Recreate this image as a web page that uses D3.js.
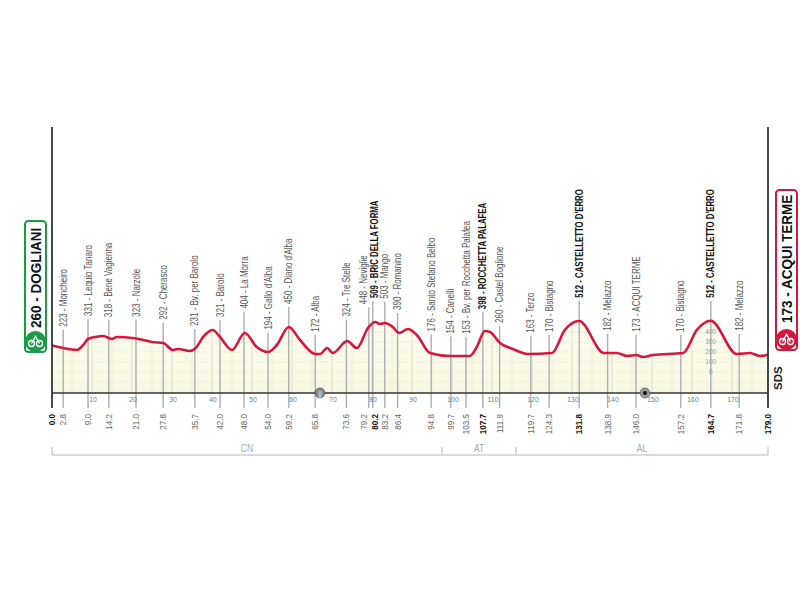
<!DOCTYPE html>
<html>
<head>
<meta charset="utf-8">
<script src="https://cdn.jsdelivr.net/npm/d3@7"></script>
<style>
  html, body { margin: 0; background: #fff; }
  svg { display: block; font-family: "Liberation Sans", sans-serif; }
</style>
</head>
<body>
<div id="chart"></div>
<script>
// profile
const profileKm = [0, 2.8, 6.2, 7.8, 9, 10.8, 12.8, 15, 16.2, 20.2, 22.8, 25, 27.8, 30.2, 31.5, 34.5, 35.7, 38.2, 40.2, 42, 45, 48.2, 51.2, 54, 56.2, 59.2, 62, 65.8, 67, 68.8, 70.2, 73.8, 76.2, 79, 80.8, 82, 83.2, 85.2, 86.8, 89, 91.2, 94.5, 99.5, 104.5, 106.2, 108.2, 109.5, 112, 115.2, 119, 125, 128.2, 131.8, 138, 141.2, 143.8, 146, 147.8, 150.2, 157.8, 161.2, 164.7, 171.2, 174.5, 177, 179];
const profileElev = [265, 240, 220, 270, 330, 350, 360, 330, 350, 340, 320, 300, 290, 220, 230, 210, 231, 370, 420, 350, 220, 390, 250, 200, 270, 450, 320, 180, 180, 240, 190, 310, 240, 440, 500, 480, 490, 450, 390, 430, 370, 190, 160, 160, 250, 410, 400, 290, 230, 180, 190, 420, 510, 190, 190, 160, 170, 150, 170, 190, 420, 512, 180, 190, 160, 173];

const cpKm = [2.8, 9.0, 14.2, 21.0, 27.8, 35.7, 42.0, 48.0, 54.0, 59.2, 65.8, 73.6, 79.2, 80.2, 83.2, 86.4, 94.8, 99.7, 103.5, 107.7, 111.9, 119.7, 124.3, 131.8, 138.9, 146.0, 157.2, 164.7, 171.8];
const cpElev = [223, 331, 318, 323, 292, 231, 321, 404, 194, 450, 172, 324, 448, 509, 503, 390, 176, 154, 153, 398, 260, 163, 170, 512, 182, 173, 170, 512, 182];
const cpName = ['Moncheiro', 'Lequio Tanaro', 'Bene Vagienna', 'Narzole', 'Cherasco', 'Bv. per Barolo', 'Barolo', 'La Morra', "Gallo d'Alba", "Diano d'Alba", 'Alba', 'Tre Stelle', 'Neviglie', 'BRIC DELLA FORMA', 'Mango', 'Romanino', 'Santo Stefano Belbo', 'Canelli', 'Bv. per Rocchetta Palafea', 'ROCCHETTA PALAFEA', 'Castel Boglione', 'Terzo', 'Bistagno', "CASTELLETTO D'ERRO", 'Melazzo', 'ACQUI TERME', 'Bistagno', "CASTELLETTO D'ERRO", 'Melazzo'];
const cpBold = ['BRIC DELLA FORMA', 'ROCCHETTA PALAFEA', "CASTELLETTO D'ERRO"];

const kmTicks = [10, 20, 30, 40, 50, 60, 70, 80, 90, 100, 110, 120, 130, 140, 150, 160, 170];
const elevTicks = [0, 100, 200, 300, 400];
const provinceNames = ['CN', 'AT', 'AL'];
const provinceEnds = [97.5, 116, 179];

const svg = d3.select('#chart').append('svg').attr('width', 800).attr('height', 600);

const x = d3.scaleLinear().domain([0, 179]).range([52, 768]);
const y = d3.scaleLinear().domain([0, 512]).range([372, 320.8]);
const base = 393;
const ink = '#333';

// these two labels sit too close, so they get pushed apart
const labelShift = km => km === 79.2 ? -5 : km === 80.2 ? 2 : 0;

const gradient = svg.append('defs').append('linearGradient')
  .attr('id', 'fill').attr('x1', 0).attr('x2', 0).attr('y1', 0).attr('y2', 1);
gradient.append('stop').attr('offset', 0).attr('stop-color', '#fdfcf0');
gradient.append('stop').attr('offset', 1).attr('stop-color', '#f8f9e2');

const area = d3.area().x((d, i) => x(profileKm[i])).y0(base).y1(d => y(d)).curve(d3.curveMonotoneX);
const line = d3.line().x((d, i) => x(profileKm[i])).y(d => y(d)).curve(d3.curveMonotoneX);

svg.append('path').datum(profileElev).attr('d', area).attr('fill', 'url(#fill)');

// Faint grid, clipped to the area under the profile
svg.append('clipPath').attr('id', 'under').append('path').datum(profileElev).attr('d', area);
const grid = svg.append('g').attr('clip-path', 'url(#under)');
grid.selectAll('line.v').data(d3.range(5, 179, 5)).join('line')
  .attr('class', 'v')
  .attr('x1', d => x(d)).attr('x2', d => x(d)).attr('y1', 310).attr('y2', base)
  .attr('stroke', d => d % 10 ? '#eeeed8' : '#dcdcc8').attr('stroke-width', 1);
grid.selectAll('line.h').data([...elevTicks, 500, -100, -200]).join('line')
  .attr('class', 'h')
  .attr('x1', x(0)).attr('x2', x(179)).attr('y1', d => y(d)).attr('y2', d => y(d))
  .attr('stroke', '#eeeed8').attr('stroke-width', 0.8);

// Checkpoint stems
const stems = svg.append('g');
stems.selectAll('line').data(cpKm).join('line')
  .attr('x1', d => x(d)).attr('x2', d => x(d))
  .attr('y1', (d, i) => y(cpElev[i]) - 20).attr('y2', base + 15)
  .attr('stroke', '#adadad').attr('stroke-width', 1.4);

// Elevation scale inside the last climb
svg.append('g').selectAll('text').data(elevTicks).join('text')
  .attr('x', x(164.7)).attr('y', d => y(d) + 2).attr('text-anchor', 'middle')
  .attr('font-size', 6.5).attr('fill', '#999').text(d => d);

svg.append('path').datum(profileElev).attr('d', line)
  .attr('fill', 'none').attr('stroke', '#d4183d').attr('stroke-width', 2.6);

// Frame and baseline
svg.append('line').attr('x1', x(0)).attr('x2', x(179)).attr('y1', base).attr('y2', base).attr('stroke', ink).attr('stroke-width', 1.5);
svg.selectAll('line.side').data([0, 179]).join('line')
  .attr('class', 'side')
  .attr('x1', d => x(d)).attr('x2', d => x(d)).attr('y1', 127).attr('y2', base + 15)
  .attr('stroke', ink).attr('stroke-width', 1.8);

// Km ticks
svg.append('g').selectAll('text').data(kmTicks).join('text')
  .attr('transform', d => `translate(${x(d) + 1},402) scale(0.85,1)`)
  .attr('text-anchor', 'middle')
  .attr('font-size', 8).attr('fill', '#777').text(d => d);

// Checkpoint labels, squeezed to get the condensed look
svg.append('g').selectAll('text').data(cpKm).join('text')
  .attr('transform', (d, i) => `translate(${x(d) + 3.5 + labelShift(d)},${y(cpElev[i]) - 23}) rotate(-90) scale(${cpBold.includes(cpName[i]) ? 0.78 : 0.8},1)`)
  .attr('font-size', 10)
  .attr('font-weight', (d, i) => cpBold.includes(cpName[i]) ? 700 : 400)
  .attr('fill', (d, i) => cpBold.includes(cpName[i]) ? '#111' : '#555')
  .text((d, i) => `${cpElev[i]} - ${cpName[i]}`);

// Km labels under the stems
const kmLabels = [0, ...cpKm, 179];
const kmBold = [0, 80.2, 107.7, 131.8, 164.7, 179];
svg.append('g').selectAll('text').data(kmLabels).join('text')
  .attr('transform', d => `translate(${x(d) + 3 + labelShift(d)},414) rotate(-90) scale(0.9,1)`)
  .attr('text-anchor', 'end')
  .attr('font-size', 9)
  .attr('font-weight', d => kmBold.includes(d) ? 700 : 400)
  .attr('fill', d => kmBold.includes(d) ? '#111' : '#666')
  .text(d => d.toFixed(1));

// Province bracket
const bracket = svg.append('g').attr('stroke', '#b5b5b5').attr('fill', 'none');
bracket.append('line').attr('x1', x(0)).attr('x2', x(179)).attr('y1', 455).attr('y2', 455);
bracket.selectAll('line.t').data([0, ...provinceEnds]).join('line')
  .attr('class', 't')
  .attr('x1', d => x(d)).attr('x2', d => x(d)).attr('y1', 447).attr('y2', 455);
svg.append('g').selectAll('text').data(provinceNames).join('text')
  .attr('transform', (d, i) => `translate(${x(((i ? provinceEnds[i - 1] : 0) + provinceEnds[i]) / 2)},452) scale(0.85,1)`)
  .attr('text-anchor', 'middle').attr('font-size', 10).attr('fill', '#aaa').text(d => d);

// Markers on the baseline
const feed = svg.append('g').attr('transform', `translate(${x(67)},${base})`);
feed.append('circle').attr('r', 5).attr('fill', '#8a8a8a').attr('stroke', '#444').attr('stroke-width', 0.7);
feed.append('text').attr('y', 2.5).attr('text-anchor', 'middle').attr('font-size', 7).attr('fill', '#eee').text('||');
const sprint = svg.append('g').attr('transform', `translate(${x(148.25)},${base})`);
sprint.append('circle').attr('r', 5).attr('fill', '#999').attr('stroke', '#555').attr('stroke-width', 0.7);
sprint.append('circle').attr('r', 2).attr('fill', '#111');

svg.append('text').attr('transform', `translate(${x(179) + 14},390) rotate(-90)`)
  .attr('font-size', 11.5).attr('font-weight', 700).attr('fill', '#222').text('SDS');

// Start and finish badges
function badge(cx, top, bottom, inset, color, label, squeeze) {
  const g = svg.append('g');
  const cy = bottom - 10.5;
  g.append('rect').attr('x', cx - 10.5).attr('y', top).attr('width', 21).attr('height', bottom - top)
    .attr('rx', 3.5).attr('fill', '#fff').attr('stroke', color).attr('stroke-width', 2);
  g.append('circle').attr('cx', cx).attr('cy', cy).attr('r', 10.5).attr('fill', color);
  g.append('circle').attr('cx', cx - 4).attr('cy', cy + 2).attr('r', 3).attr('fill', 'none').attr('stroke', '#fff').attr('stroke-width', 1.3);
  g.append('circle').attr('cx', cx + 4).attr('cy', cy + 2).attr('r', 3).attr('fill', 'none').attr('stroke', '#fff').attr('stroke-width', 1.3);
  g.append('path').attr('d', d3.line()([[cx - 4, cy + 2], [cx, cy - 5], [cx + 4, cy + 2]]))
    .attr('fill', 'none').attr('stroke', '#fff').attr('stroke-width', 1.5);
  g.append('text').attr('transform', `translate(${cx + 5.5},${bottom - inset}) rotate(-90) scale(${squeeze},1)`)
    .attr('font-size', 15.5).attr('font-weight', 700).attr('fill', '#111').text(label);
}
badge(35.5, 221, 352, 24, '#1d9a45', '260 - DOGLIANI', 0.87);
badge(786.5, 190, 350, 27, '#d4183d', '173 - ACQUI TERME', 0.87);
</script>
</body>
</html>
